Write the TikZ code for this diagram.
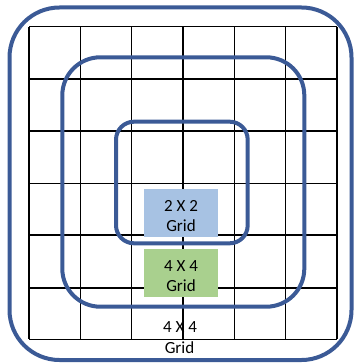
\documentclass[tikz,border=0pt]{standalone}
\usepackage{fontspec}
\setmainfont{Carlito}
\definecolor{frameblue}{RGB}{59,90,150}
\definecolor{boxblue}{RGB}{167,194,227}
\definecolor{boxgreen}{RGB}{169,208,142}
\begin{document}
\begin{tikzpicture}[x=1pt,y=-1pt,
  gridline/.style={line width=1.3pt,black},
  frame/.style={line width=4pt,frameblue},
  labelbox/.style={inner sep=0pt,minimum width=73.7pt,minimum height=48.3pt,draw=none},
  lbl/.style={font=\fontsize{17}{20}\selectfont,anchor=base,inner sep=0pt}]
\useasboundingbox (0,0) rectangle (356,363);
% grid
\foreach \x in {29,80.4,131.7,183,234.3,285.7,337}
  \draw[gridline] (\x,26.7) -- (\x,339.3);
\foreach \y in {26.7,79,131,183.3,235,288,339.3}
  \draw[gridline] (29,\y) -- (337,\y);
% frames
\draw[frame,rounded corners=50pt] (9.5,7.5) rectangle (351.5,360);
\draw[frame,rounded corners=38pt] (62.3,57.3) rectangle (304.3,306.7);
\draw[frame,rounded corners=18pt] (116,121.7) rectangle (247.7,243.3);
% boxes
\node[labelbox,fill=boxblue] (bluebox) at (180.85,213.2) {};
\node[labelbox,fill=boxgreen] (greenbox) at (180.85,273.2) {};
% labels
\node[lbl] (b1) at (181,211.7) {2 X 2};
\node[lbl] (b2) at (181,231.7) {Grid};
\node[lbl] (g1) at (181,271.7) {4 X 4};
\node[lbl] (g2) at (181,291.7) {Grid};
\node[lbl] (o1) at (180,332.3) {4 X 4};
\node[lbl] (o2) at (179.5,353.3) {Grid};
\end{tikzpicture}
\end{document}
